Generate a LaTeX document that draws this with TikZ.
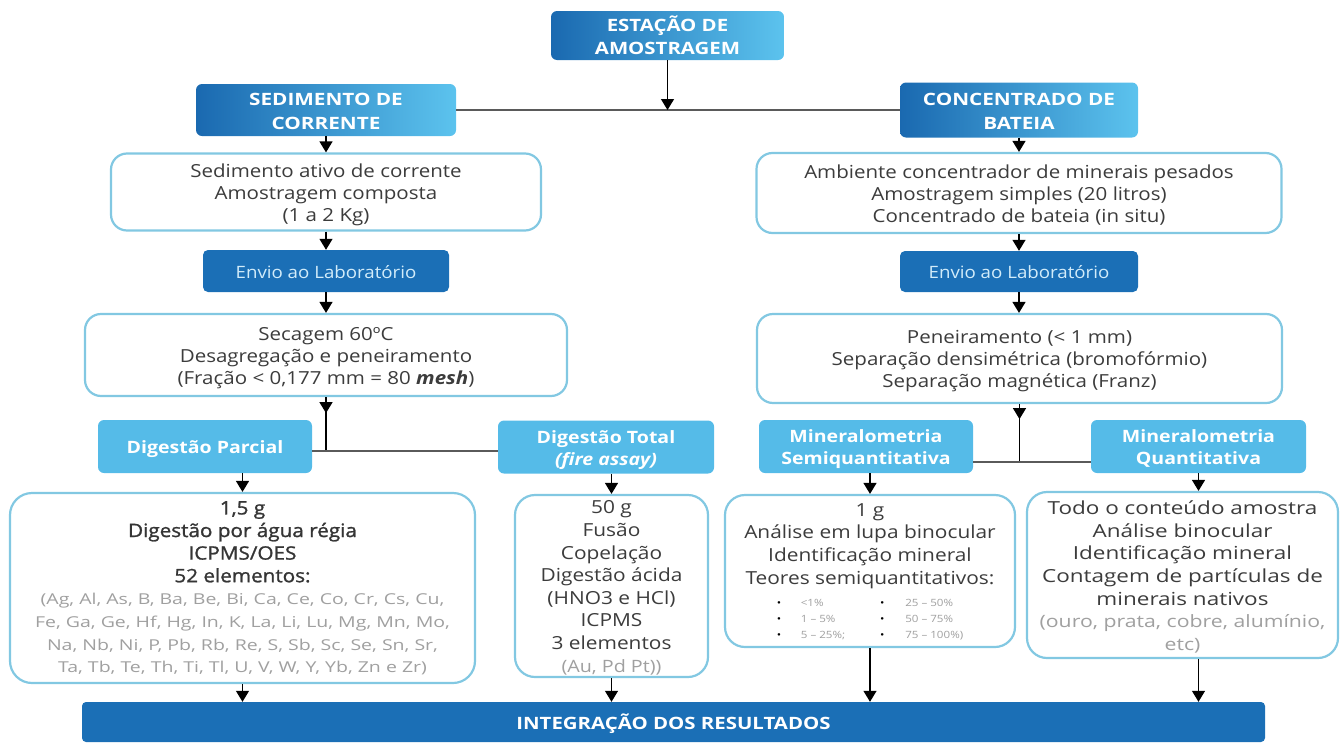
\documentclass[tikz,border=0pt]{standalone}
\usepackage{fontspec}
\usepackage{graphicx}
\setmainfont{Open Sans}
\newfontfamily\semib{Open Sans}[FakeBold=1.2]
\usetikzlibrary{arrows.meta}
\definecolor{dblue}{HTML}{1B6FB6}
\definecolor{gl}{HTML}{1A69B0}
\definecolor{gr}{HTML}{5CC3EE}
\definecolor{lblue}{HTML}{55BBE8}
\definecolor{bord}{HTML}{82C8E2}
\definecolor{txt}{HTML}{3C3C3C}
\definecolor{dtxt}{HTML}{353535}
\definecolor{lgray}{HTML}{A0A0A0}
\definecolor{etxt}{HTML}{D2ECFA}
\definecolor{hgray}{HTML}{5A5A5A}
\newcommand\TB[3][-3pt]{\raisebox{#1}[\height][\depth]{\scalebox{#2}[1]{\begin{tabular}{@{}c@{}}#3\end{tabular}}}}
\newcommand\gtx[2]{\color{lgray}\fontsize{#1}{22}\selectfont #2}
\newcommand\hx[1]{\color{dtxt}\semib\fontsize{18.5}{22.6}\selectfont\scalebox{0.86}[1]{#1}}
\begin{document}
\begin{tikzpicture}[x=1pt,y=-1pt,
  grad/.style={rounded corners=6pt, left color=gl, right color=gr, text=white, font=\fontsize{17}{23.5}\selectfont\bfseries, inner sep=0pt},
  envio/.style={rounded corners=5pt, fill=dblue, text=etxt, font=\fontsize{17}{20}\selectfont, inner sep=0pt},
  lbox/.style={rounded corners=6pt, fill=lblue, text=white, font=\fontsize{17}{22}\selectfont\bfseries, inner sep=0pt},
  wbox/.style={draw=bord, line width=2.2pt, rounded corners=16pt, fill=white, text=txt, inner sep=0pt, font=\fontsize{18}{22}\selectfont},
  bbox/.style={wbox, font=\fontsize{18}{22.6}\selectfont},
  arr/.style={line width=1.3pt, -{Triangle[width=13pt,length=11pt]}},
  ln/.style={line width=1.3pt},
  hl/.style={line width=1.3pt, draw=hgray}]
\useasboundingbox (0,0) rectangle (1342,742);
% top level
\node[grad, minimum width=233, minimum height=49] (sta) at (667.5,35.5) {\TB{1.2}{ESTAÇÃO DE\\AMOSTRAGEM}};
\node[grad, minimum width=260, minimum height=52] (sed) at (326,110) {\TB{1.22}{SEDIMENTO DE\\CORRENTE}};
\node[grad, minimum width=238, minimum height=55] (con) at (1019,110) {\TB{1.22}{CONCENTRADO DE\\BATEIA}};
% left column
\node[wbox, minimum width=430, minimum height=77] (sa) at (326,192) {\TB{1.14}{Sedimento ativo de corrente\\Amostragem composta\\(1 a 2 Kg)}};
\node[envio, minimum width=246, minimum height=42] (env1) at (326,271) {\TB{1.1}{Envio ao Laboratório}};
\node[wbox, minimum width=482, minimum height=82] (sec) at (326,355) {\TB{1.14}{Secagem 60ºC\\Desagregação e peneiramento\\(Fração < 0,177 mm = 80 {\bfseries\itshape mesh})}};
\node[lbox, minimum width=214, minimum height=53] (dp) at (205,446.5) {\TB{1.15}{Digestão Parcial}};
\node[lbox, minimum width=216, minimum height=53] (dt) at (606,447) {\TB{1.15}{Digestão Total\\\itshape(fire assay)}};
% right column
\node[wbox, minimum width=525, minimum height=80] (amb) at (1019,193) {\TB{1.14}{Ambiente concentrador de minerais pesados\\Amostragem simples (20 litros)\\Concentrado de bateia (in situ)}};
\node[envio, minimum width=238, minimum height=41] (env2) at (1019,271.5) {\TB{1.1}{Envio ao Laboratório}};
\node[wbox, minimum width=525, minimum height=89] (pen) at (1019.5,358.5) {\TB{1.14}{Peneiramento (< 1 mm)\\Separação densimétrica (bromofórmio)\\Separação magnética (Franz)}};
\node[lbox, minimum width=214, minimum height=53] (ms) at (866,446.5) {\TB{1.15}{Mineralometria\\Semiquantitativa}};
\node[lbox, minimum width=215, minimum height=53] (mq) at (1198.5,446.5) {\TB{1.15}{Mineralometria\\Quantitativa}};
% bottom boxes
\node[bbox, minimum width=465, minimum height=190, rounded corners=22pt] (b1) at (242.5,588) {\TB[-1pt]{1.3}{\hx{1,5 g}\\\hx{Digestão por água régia}\\\hx{ICPMS/OES}\\\hx{52 elementos:}\\\gtx{15}{(Ag, Al, As, B, Ba, Be, Bi, Ca, Ce, Co, Cr, Cs, Cu,}\\\gtx{15}{Fe, Ga, Ge, Hf, Hg, In, K, La, Li, Lu, Mg, Mn, Mo,}\\\gtx{15}{Na, Nb, Ni, P, Pb, Rb, Re, S, Sb, Sc, Se, Sn, Sr,}\\\gtx{15}{Ta, Tb, Te, Th, Ti, Tl, U, V, W, Y, Yb, Zn e Zr)}}};
\node[bbox, minimum width=193, minimum height=182, rounded corners=20pt] (b2) at (611.5,586) {\TB[-2.5pt]{1.16}{50 g\\Fusão\\Copelação\\Digestão ácida\\(HNO3 e HCl)\\ICPMS\\3 elementos\\\gtx{17}{(Au, Pd Pt))}}};
\node[bbox, minimum width=290, minimum height=152, rounded corners=20pt] (b3) at (870,571) {\TB[-1pt]{1.16}{1 g\\Análise em lupa binocular\\Identificação mineral\\Teores semiquantitativos:\\
\fontsize{10}{16}\selectfont\begin{tabular}[t]{@{}l@{\hspace{17pt}}l@{\hspace{30pt}}l@{\hspace{18pt}}l@{}}
\color{black}• & \color{lgray}<1\% & \color{black}• & \color{lgray}25 – 50\%\\
\color{black}• & \color{lgray}1 – 5\% & \color{black}• & \color{lgray}50 – 75\%\\
\color{black}• & \color{lgray}5 – 25\%; & \color{black}• & \color{lgray}75 – 100\%)
\end{tabular}}};
\node[bbox, minimum width=311, minimum height=166, rounded corners=20pt] (b4) at (1182.5,575) {\TB{1.25}{Todo o conteúdo amostra\\Análise binocular\\Identificação mineral\\Contagem de partículas de\\minerais nativos\\\gtx{17}{(ouro, prata, cobre, alumínio,}\\\gtx{17}{etc)}}};
\node[fill=dblue, minimum width=1183, minimum height=40, inner sep=0pt, rounded corners=4pt, text=white, font=\fontsize{17}{20}\selectfont\bfseries] (bar) at (673.5,722) {\TB{1.2}{INTEGRAÇÃO DOS RESULTADOS}};
% connectors
\draw[hl] (sed.east) -- (con.west);
\draw[arr] (sta.south) -- (sta.south |- sed.east);
\draw[arr] (sed.south) -- (sed.south |- sa.north);
\draw[arr] (sa.south) -- (env1.north);
\draw[arr] (env1.south) -- (sec.north);
\coordinate (j2) at (326,451);
\draw[ln] (sec.south) -- (j2);
\draw[arr] (sec.south) -- ++(0,16);
\draw[hl] (dp.east |- j2) -- (dt.west |- j2);
\draw[arr] (con.south) -- (con.south |- amb.north);
\draw[arr] (con.south |- amb.south) -- (env2.north);
\draw[arr] (env2.south) -- (env2.south |- pen.north);
\coordinate (j4) at (1019.5,462);
\draw[ln] (pen.south) -- (j4);
\draw[arr] (pen.south) -- ++(0,15);
\draw[hl] (ms.east |- j4) -- (mq.west |- j4);
\draw[arr] (b1.north |- dp.south) -- (b1.north);
\draw[arr] (b2.north |- dt.south) -- (b2.north);
\draw[arr] (b3.north |- ms.south) -- (b3.north);
\draw[arr] (mq.south) -- (mq.south |- b4.north);
\draw[arr] (b1.south) -- (b1.south |- bar.north);
\draw[arr] (b2.south) -- (b2.south |- bar.north);
\draw[arr] (b3.south) -- (b3.south |- bar.north);
\draw[arr] (mq.south |- b4.south) -- (mq.south |- bar.north);
\end{tikzpicture}
\end{document}
